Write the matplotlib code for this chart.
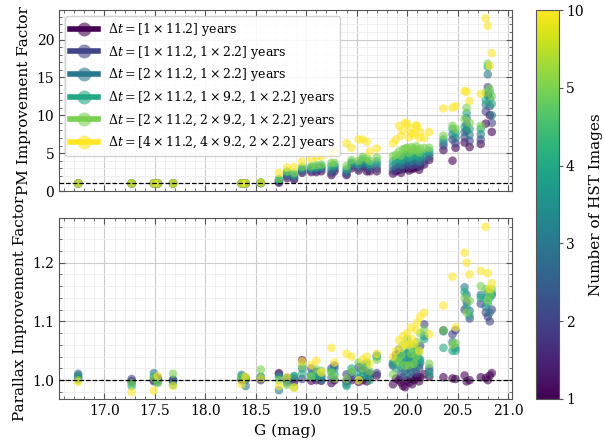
import numpy as np
import matplotlib
matplotlib.use("Agg")
from matplotlib import pyplot as plt
from matplotlib.colors import FuncNorm
from matplotlib.lines import Line2D
from matplotlib.ticker import FixedLocator, FixedFormatter, NullLocator

plt.rcParams['font.family'] = 'DejaVu Serif'
plt.rcParams['mathtext.fontset'] = 'dejavuserif'

# number of HST images for each epoch configuration
n_images = [1, 2, 3, 4, 5, 10]
legend_labels = [r'$\Delta t = [1 \times 11.2]$ years',
                 r'$\Delta t = [1 \times 11.2, 1 \times 2.2]$ years',
                 r'$\Delta t = [2 \times 11.2, 1 \times 2.2]$ years',
                 r'$\Delta t = [2 \times 11.2, 1 \times 9.2, 1 \times 2.2]$ years',
                 r'$\Delta t = [2 \times 11.2, 2 \times 9.2, 1 \times 2.2]$ years',
                 r'$\Delta t = [4 \times 11.2, 4 \times 9.2, 2 \times 2.2]$ years']

# Gaia G magnitude of each star
g_mag = [16.74, 17.27, 17.49, 17.53, 17.68, 18.36, 18.40, 18.55, 18.73, 18.81,
         18.88, 18.96, 19.05, 19.10, 19.15, 19.25, 19.28, 19.40, 19.45, 19.52,
         19.56, 19.60, 19.63, 19.70, 19.86, 19.89, 19.92, 19.94, 19.96, 19.98,
         20.00, 20.02, 20.04, 20.05, 20.07, 20.09, 20.10, 20.12, 20.13, 20.17,
         20.22, 20.36, 20.45, 20.48, 20.57, 20.59, 20.62, 20.73, 20.78, 20.80,
         20.82, 20.84]

# PM improvement factor, one list per configuration (1, 2, 3, 4, 5, 10 images)
pm_1 = [1.0, 1.0, 1.0, 1.0, 1.0, 1.0, 1.0, 1.05, 1.1, 1.7,
        1.5, 2.4, 2.5, 2.5, 2.6, 2.1, 2.6, 2.1, 3.0, 2.7,
        3.3, 2.6, 2.6, 2.6, 2.3, 2.6, 2.8, 2.4, 2.9, 3.1,
        3.0, 2.7, 3.1, 2.9, 3.0, 3.3, 3.2, 2.8, 3.3, 3.5,
        4.1, 5.4, 4.0, 5.7, 6.4, 8.0, 5.8, 6.2, 8.9, 12.7,
        10.0, 7.8]
pm_2 = [1.0, 1.0, 1.0, 1.0, 1.0, 1.0, 1.0, 1.05, 1.2, 2.0,
        1.7, 2.6, 2.7, 2.7, 2.9, 2.4, 2.9, 2.3, 3.3, 3.0,
        3.6, 3.0, 2.9, 3.0, 2.7, 3.0, 3.3, 2.9, 3.4, 3.6,
        3.5, 3.2, 3.6, 3.4, 3.5, 3.8, 3.6, 3.3, 3.8, 3.9,
        4.5, 6.0, 6.8, 6.3, 7.1, 8.8, 6.6, 6.8, 10.5, 13.7,
        11.2, 9.0]
pm_3 = [1.0, 1.0, 1.0, 1.0, 1.0, 1.0, 1.0, 1.1, 1.4, 2.2,
        1.9, 2.8, 2.9, 3.0, 3.1, 2.8, 3.2, 2.6, 3.6, 3.3,
        3.9, 3.5, 3.3, 3.5, 3.3, 3.6, 3.8, 3.5, 4.0, 4.2,
        4.2, 3.8, 4.3, 4.0, 4.1, 4.4, 4.2, 3.9, 4.3, 4.5,
        4.9, 6.4, 7.5, 7.0, 7.8, 9.6, 7.4, 7.5, 11.4, 15.4,
        12.2, 10.0]
pm_4 = [1.0, 1.0, 1.0, 1.0, 1.0, 1.0, 1.0, 1.1, 1.5, 2.5,
        2.2, 3.0, 3.1, 3.2, 3.3, 3.3, 3.4, 2.9, 3.8, 3.6,
        4.2, 3.9, 3.6, 3.9, 3.9, 4.2, 4.4, 4.1, 4.6, 4.8,
        4.9, 4.4, 4.9, 4.6, 4.8, 5.0, 4.8, 4.5, 4.9, 5.0,
        5.3, 6.8, 8.2, 7.6, 8.5, 10.3, 8.2, 8.2, 12.0, 16.4,
        13.0, 11.5]
pm_5 = [1.0, 1.0, 1.0, 1.0, 1.0, 1.0, 1.0, 1.1, 1.6, 2.6,
        2.4, 3.2, 3.3, 3.4, 3.5, 3.7, 3.7, 3.3, 4.1, 4.0,
        4.5, 4.3, 4.0, 4.4, 4.6, 4.8, 5.2, 4.7, 5.5, 5.6,
        5.7, 5.0, 5.8, 5.3, 5.6, 5.9, 5.4, 5.1, 5.6, 5.7,
        5.7, 7.3, 8.6, 8.2, 9.5, 11.0, 9.0, 8.6, 13.0, 16.8,
        13.5, 12.5]
pm_10 = [1.0, 1.0, 1.0, 1.0, 1.0, 1.0, 1.0, 1.1, 2.4, 3.1,
         3.2, 3.9, 4.3, 4.5, 4.6, 5.0, 5.3, 6.3, 5.7, 6.8,
         6.8, 6.5, 5.2, 5.6, 6.3, 6.8, 8.6, 7.3, 8.0, 9.0,
         8.9, 7.1, 8.3, 7.6, 7.5, 8.7, 8.5, 7.0, 7.8, 7.0,
         7.8, 10.9, 11.0, 11.2, 13.2, 13.1, 11.9, 12.8, 22.8, 21.8,
         16.5, 18.2]

# parallax improvement factor, same layout
plx_1 = [1.003, 0.998, 1.000, 1.001, 1.000, 1.002, 1.001, 1.002, 1.012, 1.000,
         0.997, 1.034, 0.999, 1.000, 0.999, 0.995, 1.000, 0.998, 1.000, 0.997,
         1.000, 0.998, 1.005, 1.008, 0.993, 1.003, 1.000, 0.996, 0.990, 0.988,
         1.000, 0.996, 1.003, 0.993, 1.000, 1.004, 1.006, 0.998, 1.005, 1.010,
         1.006, 1.005, 1.003, 1.002, 1.008, 0.998, 1.000, 1.005, 1.004, 1.000,
         1.008, 1.012]
plx_2 = [1.008, 1.002, 0.998, 1.004, 0.998, 1.000, 1.003, 1.000, 1.010, 1.004,
         1.002, 1.002, 1.020, 1.014, 1.005, 1.020, 1.025, 1.010, 1.005, 1.022,
         1.017, 1.013, 1.010, 1.012, 1.025, 1.043, 1.045, 1.010, 1.005, 1.030,
         1.020, 1.038, 1.015, 1.025, 1.030, 1.012, 1.045, 1.020, 1.058, 1.095,
         1.015, 1.085, 1.078, 1.085, 1.120, 1.133, 1.105, 1.130, 1.115, 1.108,
         1.100, 1.120]
plx_3 = [1.011, 0.996, 1.012, 0.999, 1.001, 1.009, 0.990, 1.005, 0.983, 0.996,
         1.006, 1.020, 1.010, 1.004, 1.000, 1.005, 1.020, 0.993, 1.013, 1.003,
         1.025, 1.005, 1.012, 1.042, 1.028, 1.038, 1.052, 1.022, 1.030, 1.015,
         1.045, 1.010, 1.035, 1.040, 1.020, 1.030, 1.040, 1.025, 1.030, 1.075,
         1.020, 1.083, 1.065, 1.055, 1.158, 1.145, 1.118, 1.145, 1.125, 1.150,
         1.115, 1.145]
plx_4 = [1.005, 0.990, 1.006, 0.997, 0.992, 1.006, 1.004, 1.006, 1.005, 1.003,
         1.007, 1.011, 1.007, 1.006, 1.008, 1.015, 1.010, 0.990, 1.020, 1.012,
         1.008, 1.028, 1.000, 1.040, 1.030, 1.020, 1.040, 1.035, 1.025, 1.045,
         1.035, 1.050, 1.060, 1.028, 1.040, 1.050, 1.055, 1.035, 1.035, 1.070,
         1.010, 1.055, 1.050, 1.050, 1.150, 1.125, 1.110, 1.140, 1.140, 1.130,
         1.140, 1.148]
plx_5 = [1.000, 0.995, 1.003, 0.995, 1.011, 1.004, 1.002, 1.018, 1.000, 0.992,
         0.988, 1.024, 1.006, 1.018, 1.016, 1.013, 1.003, 1.002, 1.015, 1.030,
         1.020, 1.030, 1.015, 1.035, 1.010, 1.035, 1.030, 1.042, 1.060, 1.025,
         1.070, 1.025, 1.045, 1.055, 1.028, 1.040, 1.065, 1.048, 1.080, 1.085,
         1.028, 1.085, 1.060, 1.063, 1.140, 1.115, 1.135, 1.160, 1.155, 1.135,
         1.145, 1.155]
plx_10 = [0.997, 0.980, 0.982, 1.007, 0.990, 0.993, 1.006, 1.003, 0.990, 1.005,
          0.987, 1.032, 1.026, 1.033, 1.013, 1.055, 1.030, 1.045, 1.040, 1.000,
          1.035, 1.040, 1.028, 1.045, 1.040, 1.050, 1.068, 1.055, 1.075, 1.062,
          1.080, 1.060, 1.090, 1.070, 1.062, 1.085, 1.098, 1.050, 1.108, 1.115,
          1.078, 1.127, 1.176, 1.090, 1.217, 1.200, 1.180, 1.186, 1.261, 1.182,
          1.155, 1.165]

pm_all = [pm_1, pm_2, pm_3, pm_4, pm_5, pm_10]
plx_all = [plx_1, plx_2, plx_3, plx_4, plx_5, plx_10]

cmap = plt.get_cmap('viridis')
# image counts are spaced evenly along the colour bar
steps = np.arange(len(n_images), dtype=float)
norm = FuncNorm((lambda x: np.interp(x, n_images, steps),
                 lambda y: np.interp(y, steps, n_images)), vmin=1, vmax=10)

fig = plt.figure(figsize=(6.04, 4.4), dpi=100)
ax1 = fig.add_axes([0.0977, 0.5659, 0.75, 0.4114])
ax2 = fig.add_axes([0.0977, 0.0932, 0.75, 0.4114], sharex=ax1)
cax = fig.add_axes([0.8874, 0.0932, 0.038, 0.884])

g = np.array(g_mag)
for n, pm, plx in zip(n_images, pm_all, plx_all):
    c = np.full(len(g), n)
    ax1.scatter(g, pm, c=c, cmap=cmap, norm=norm, s=38, alpha=0.6,
                edgecolors='none', zorder=2)
    ax2.scatter(g, plx, c=c, cmap=cmap, norm=norm, s=38, alpha=0.6,
                edgecolors='none', zorder=2)

for ax in (ax1, ax2):
    ax.axhline(1.0, color='k', ls='--', lw=0.9, zorder=3)
    ax.minorticks_on()
    ax.grid(True, which='major', color='#cccccc', lw=0.8, zorder=0)
    ax.grid(True, which='minor', color='#eeeeee', lw=0.6, zorder=0)
    ax.set_axisbelow(True)
    ax.tick_params(which='both', direction='in', top=True, right=True,
                   labelsize=10, color='#555555')
    ax.tick_params(which='major', length=4)
    ax.tick_params(which='minor', length=2)
    for sp in ax.spines.values():
        sp.set_color('#555555')

ax1.set_xlim(16.55, 21.04)
ax1.set_ylim(0, 23.9)
ax2.set_ylim(0.968, 1.276)
ax1.set_yticks([0, 5, 10, 15, 20])
ax2.set_yticks([1.0, 1.1, 1.2])
ax2.set_xticks([17.0, 17.5, 18.0, 18.5, 19.0, 19.5, 20.0, 20.5, 21.0])
plt.setp(ax1.get_xticklabels(), visible=False)

ax1.set_ylabel('PM Improvement Factor', fontsize=11)
ax2.set_ylabel('Parallax Improvement Factor', fontsize=11)
ax2.set_xlabel('G (mag)', fontsize=11)

handles = []
for n in n_images:
    col = cmap(norm(n))
    handles.append(Line2D([0], [0], color=col, lw=4, marker='o', ms=10,
                          markerfacecolor=(col[0], col[1], col[2], 0.6),
                          markeredgecolor=(col[0], col[1], col[2], 0.0)))
ax1.legend(handles, legend_labels, loc='upper left', fontsize=9,
           handlelength=2.2, labelspacing=0.45, framealpha=0.85)

cb = fig.colorbar(plt.cm.ScalarMappable(norm=norm, cmap=cmap), cax=cax)
cb.ax.yaxis.set_major_locator(FixedLocator(n_images))
cb.ax.yaxis.set_major_formatter(FixedFormatter([str(n) for n in n_images]))
cb.ax.yaxis.set_minor_locator(NullLocator())
cb.ax.tick_params(labelsize=10, color='#555555', length=3, pad=2)
cb.outline.set_edgecolor('#555555')
cb.set_label('Number of HST Images', fontsize=11, labelpad=4)

fig.savefig('out.png', dpi=100)
